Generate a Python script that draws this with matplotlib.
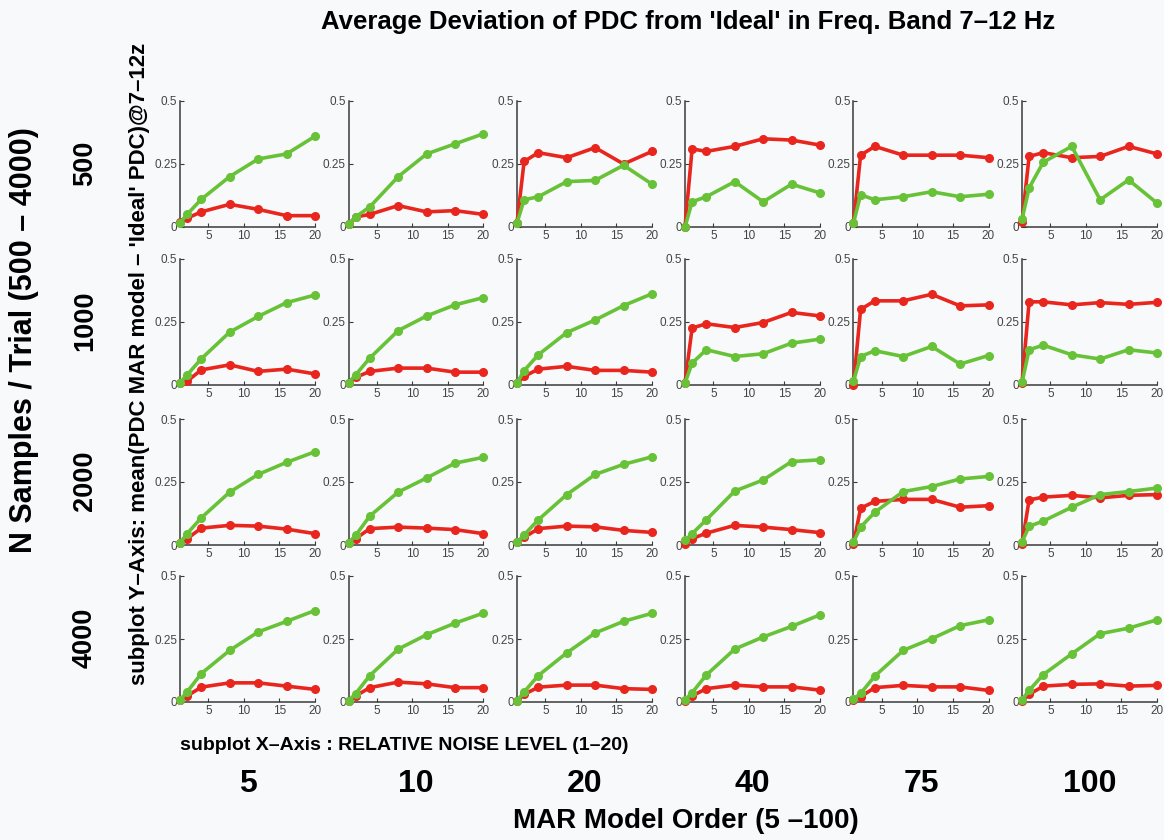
import matplotlib
matplotlib.use('Agg')
import matplotlib.pyplot as plt

plt.rcParams['font.family'] = ['Liberation Sans', 'DejaVu Sans']

# noise level (x of every subplot)
noise = [1, 2, 4, 8, 12, 16, 20]
model_orders = ['5', '10', '20', '40', '75', '100']
n_samples = ['500', '1000', '2000', '4000']

# red series, rows = samples/trial, cols = MAR order
red = [
    [[0.02, 0.035, 0.06, 0.09, 0.07, 0.045, 0.045],
     [0.01, 0.04, 0.05, 0.085, 0.06, 0.065, 0.05],
     [0.016, 0.26, 0.295, 0.275, 0.315, 0.25, 0.30],
     [0.0, 0.31, 0.30, 0.32, 0.35, 0.345, 0.325],
     [0.016, 0.285, 0.32, 0.285, 0.285, 0.285, 0.275],
     [0.02, 0.28, 0.295, 0.275, 0.28, 0.32, 0.29]],
    [[0.008, 0.015, 0.06, 0.08, 0.054, 0.063, 0.044],
     [0.008, 0.03, 0.054, 0.067, 0.067, 0.051, 0.051],
     [0.008, 0.034, 0.063, 0.074, 0.058, 0.058, 0.051],
     [0.008, 0.226, 0.243, 0.228, 0.248, 0.288, 0.274],
     [0.0, 0.30, 0.334, 0.334, 0.36, 0.314, 0.318],
     [0.008, 0.33, 0.33, 0.318, 0.327, 0.32, 0.328]],
    [[0.008, 0.025, 0.067, 0.078, 0.075, 0.063, 0.045],
     [0.008, 0.025, 0.065, 0.071, 0.067, 0.061, 0.045],
     [0.01, 0.03, 0.065, 0.075, 0.072, 0.058, 0.05],
     [0.005, 0.025, 0.047, 0.078, 0.071, 0.061, 0.049],
     [0.005, 0.146, 0.173, 0.181, 0.181, 0.15, 0.156],
     [0.005, 0.179, 0.19, 0.197, 0.187, 0.197, 0.20]],
    [[0.008, 0.024, 0.059, 0.076, 0.076, 0.063, 0.05],
     [0.004, 0.024, 0.057, 0.079, 0.072, 0.057, 0.057],
     [0.004, 0.03, 0.059, 0.067, 0.067, 0.053, 0.05],
     [0.004, 0.024, 0.053, 0.067, 0.06, 0.06, 0.047],
     [0.008, 0.021, 0.057, 0.066, 0.06, 0.06, 0.046],
     [0.004, 0.03, 0.063, 0.07, 0.072, 0.063, 0.066]],
]

# green series
green = [
    [[0.016, 0.05, 0.11, 0.20, 0.27, 0.29, 0.36],
     [0.01, 0.04, 0.08, 0.20, 0.29, 0.33, 0.37],
     [0.016, 0.108, 0.12, 0.18, 0.185, 0.245, 0.17],
     [0.0, 0.10, 0.12, 0.18, 0.10, 0.17, 0.135],
     [0.016, 0.128, 0.108, 0.12, 0.14, 0.12, 0.13],
     [0.03, 0.155, 0.257, 0.32, 0.108, 0.187, 0.095]],
    [[0.008, 0.04, 0.104, 0.21, 0.272, 0.327, 0.357],
     [0.008, 0.04, 0.107, 0.216, 0.274, 0.318, 0.347],
     [0.008, 0.057, 0.12, 0.208, 0.258, 0.315, 0.362],
     [0.008, 0.087, 0.14, 0.113, 0.124, 0.166, 0.182],
     [0.015, 0.113, 0.136, 0.113, 0.153, 0.083, 0.117],
     [0.01, 0.14, 0.158, 0.12, 0.103, 0.14, 0.127]],
    [[0.008, 0.045, 0.108, 0.21, 0.28, 0.328, 0.37],
     [0.008, 0.038, 0.115, 0.21, 0.266, 0.325, 0.348],
     [0.01, 0.04, 0.10, 0.20, 0.28, 0.32, 0.35],
     [0.018, 0.045, 0.10, 0.214, 0.258, 0.331, 0.338],
     [0.012, 0.071, 0.13, 0.212, 0.232, 0.262, 0.272],
     [0.012, 0.074, 0.095, 0.15, 0.20, 0.212, 0.226]],
    [[0.008, 0.04, 0.113, 0.205, 0.278, 0.32, 0.363],
     [0.004, 0.033, 0.105, 0.21, 0.267, 0.313, 0.353],
     [0.004, 0.04, 0.105, 0.195, 0.274, 0.32, 0.352],
     [0.008, 0.037, 0.107, 0.21, 0.258, 0.30, 0.346],
     [0.011, 0.034, 0.103, 0.205, 0.251, 0.303, 0.326],
     [0.008, 0.046, 0.109, 0.191, 0.271, 0.293, 0.326]],
]

W, H = 1164, 840
bg = '#f8f9fb'
fig = plt.figure(figsize=(W / 100, H / 100), dpi=100, facecolor=bg)

col_left = [180, 348.5, 517, 685, 853.5, 1022]
row_top = [101, 259, 419, 576]
aw, ah = 135, 126

for r in range(4):
    for c in range(6):
        ax = fig.add_axes([col_left[c] / W, 1 - (row_top[r] + ah) / H, aw / W, ah / H])
        ax.set_facecolor(bg)
        ax.plot(noise, red[r][c], '-o', color='#e8261e', lw=2.6, ms=5.5, clip_on=False, zorder=3)
        ax.plot(noise, green[r][c], '-o', color='#68c238', lw=2.6, ms=5.5, clip_on=False, zorder=4)
        ax.set_xlim(1, 20)
        ax.set_ylim(0, 0.5)
        ax.set_xticks([5, 10, 15, 20])
        ax.set_yticks([0, 0.25, 0.5])
        ax.set_yticklabels(['0', '0.25', '0.5'])
        for s in ['top', 'right']:
            ax.spines[s].set_visible(False)
        for s in ['left', 'bottom']:
            ax.spines[s].set_color('#3a3a3a')
            ax.spines[s].set_linewidth(1.1)
        ax.tick_params(direction='in', length=3, width=0.8, colors='#3a3a3a',
                       labelsize=8.5, pad=2, labelcolor='#444444')

fig.text(688 / W, 1 - 22 / H, "Average Deviation of PDC from 'Ideal' in Freq. Band 7\u201312 Hz",
         ha='center', va='center', fontsize=18.5, fontweight='bold')
fig.text(24 / W, 1 - 340 / H, 'N Samples / Trial (500 \u2013 4000)', rotation=90,
         ha='center', va='center', fontsize=22, fontweight='bold')
for r, lab in enumerate(n_samples):
    fig.text(85 / W, 1 - (row_top[r] + 62) / H, lab, rotation=90,
             ha='center', va='center', fontsize=19.5, fontweight='bold')
fig.text(140 / W, 1 - 364 / H,
         "subplot Y\u2013Axis: mean(PDC MAR model \u2013 'Ideal' PDC)@7\u201312z",
         rotation=90, ha='center', va='center', fontsize=16, fontweight='bold')
fig.text(180 / W, 1 - 745 / H, 'subplot X\u2013Axis : RELATIVE NOISE LEVEL (1\u201320)',
         ha='left', va='center', fontsize=14, fontweight='bold')
for c, lab in enumerate(model_orders):
    fig.text((col_left[c] + aw / 2) / W, 1 - 784 / H, lab,
             ha='center', va='center', fontsize=23, fontweight='bold')
fig.text(686 / W, 1 - 821 / H, 'MAR Model Order (5 \u2013100)',
         ha='center', va='center', fontsize=20, fontweight='bold')

fig.savefig('out.png', dpi=100, facecolor=bg)
